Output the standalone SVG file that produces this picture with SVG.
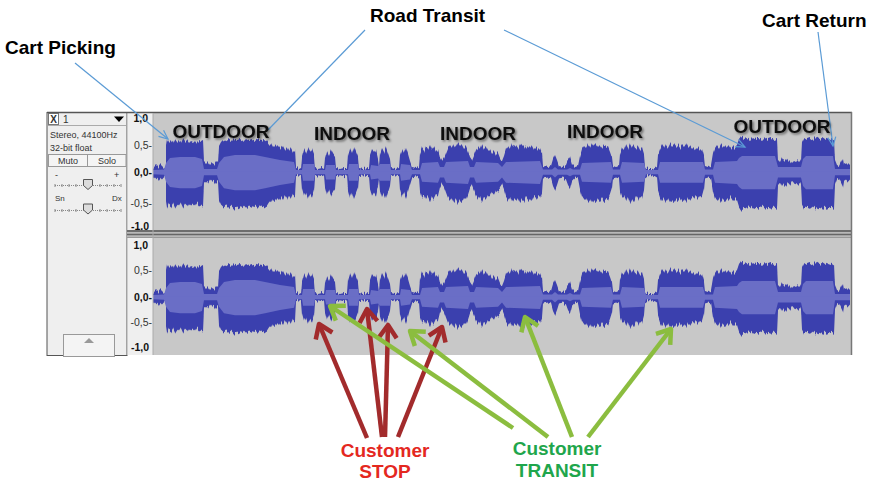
<svg xmlns="http://www.w3.org/2000/svg" width="873" height="484" viewBox="0 0 873 484">
<style>
.lbl{font-family:"Liberation Sans",Arial,sans-serif;font-weight:bold;font-size:19px;fill:#000}
.zone{font-family:"Liberation Sans",Arial,sans-serif;font-weight:bold;font-size:19px;fill:#111;text-anchor:middle}
.rul{font-family:"Liberation Sans",Arial,sans-serif;font-size:10.5px;fill:#333;text-anchor:end}
.rb{font-weight:bold;fill:#111}
.sm{font-family:"Liberation Sans",Arial,sans-serif;font-size:9px;fill:#333}
.ann{stroke:#5b9bd5;stroke-width:1.2;fill:none}
.red{stroke:#a22b2c;stroke-width:4.5;fill:none}
.grn{stroke:#8bbd3f;stroke-width:4.5;fill:none}
.wo{fill:#3b3fae}
.wi{fill:#6a6ec6}
.btn{fill:#f4f4f4;stroke:#999;stroke-width:1}
.thumb{fill:#dcdcdc;stroke:#555;stroke-width:1}
</style>
<defs>
<filter id="sh" x="-10%" y="-40%" width="130%" height="190%">
<feDropShadow dx="1.5" dy="1.5" stdDeviation="1.2" flood-color="#000" flood-opacity="0.5"/>
</filter>
<filter id="jag" x="-2%" y="-30%" width="104%" height="160%">
<feTurbulence type="fractalNoise" baseFrequency="0.7 0.008" numOctaves="1" seed="3" result="n"/>
<feColorMatrix in="n" type="matrix" values="0 0 0 0 0.5  0 1 0 0 0  0 0 0 0 0  0 0 0 0 1" result="m"/>
<feDisplacementMap in="SourceGraphic" in2="m" scale="9" xChannelSelector="R" yChannelSelector="G"/>
</filter>
<marker id="ab" markerUnits="userSpaceOnUse" markerWidth="12" markerHeight="12" refX="9" refY="4" orient="auto" overflow="visible">
<path d="M0,0 L9,4 L0,8" fill="none" stroke="#5b9bd5" stroke-width="1.2"/>
</marker>
<marker id="ar" markerUnits="userSpaceOnUse" markerWidth="1" markerHeight="1" orient="auto" overflow="visible">
<path d="M-13,-9 L0,0 L-13,9" fill="none" stroke="#a22b2c" stroke-width="4.5" stroke-linejoin="round"/>
</marker>
<marker id="ag" markerUnits="userSpaceOnUse" markerWidth="1" markerHeight="1" orient="auto" overflow="visible">
<path d="M-13,-9 L0,0 L-13,9" fill="none" stroke="#8bbd3f" stroke-width="4.5" stroke-linejoin="round"/>
</marker>
<path id="wot" class="wo" d="M153,0.6 L153,-4 156,-7 158,-5 160,-8 162,-6 164,-4 166,-3 166,-28 167,-34 169,-30 171,-32 173,-29 175,-33 177,-30 179,-32 181,-29 183,-33 185,-30 187,-32 189,-29 191,-31 193,-30 195,-32 197,-29 199,-31 201,-30 203,-31 204,-10 206,-8 208,-10 210,-7 212,-9 214,-8 216,-11 218,-9 219,-26 221,-30 223,-32 225,-31 228,-33 231,-31 234,-34 237,-32 240,-33 243,-31 246,-34 249,-32 252,-33 255,-31 258,-33 261,-31 264,-32 267,-30 269,-27 271,-29 273,-25 275,-27 277,-24 279,-26 281,-23 283,-26 285,-22 287,-25 289,-21 291,-24 293,-20 295,-22 296,-4 299,-3 301,-4 302,-16 304,-23 306,-19 308,-24 310,-20 312,-23 314,-17 315,-4 318,-3 322,-4 324,-3 325,-14 327,-21 329,-17 331,-22 333,-18 335,-15 336,-4 340,-3 344,-4 347,-3 348,-17 350,-24 352,-19 354,-25 356,-20 358,-15 359,-4 363,-3 369,-4 370,-16 372,-22 374,-19 376,-22 378,-13 379,-6 380,-18 382,-24 384,-20 386,-25 388,-19 390,-13 391,-4 395,-3 399,-4 400,-17 402,-23 404,-19 406,-24 408,-18 410,-11 412,-5 416,-4 419,-5 420,-18 422,-24 424,-21 426,-26 428,-23 430,-27 432,-22 434,-25 436,-21 438,-23 440,-15 442,-11 444,-14 446,-19 448,-24 450,-27 452,-24 454,-28 456,-25 458,-29 460,-26 462,-28 464,-24 466,-26 468,-21 470,-15 472,-12 474,-17 476,-22 478,-25 480,-22 482,-27 484,-23 486,-25 488,-21 490,-23 492,-19 494,-21 496,-17 498,-19 500,-14 502,-11 504,-16 506,-23 508,-26 510,-23 512,-28 514,-25 516,-27 518,-24 520,-28 522,-25 524,-27 526,-23 528,-26 530,-24 532,-27 534,-23 536,-25 538,-22 540,-24 542,-19 543,-6 548,-5 551,-6 553,-13 555,-17 557,-12 559,-6 563,-5 566,-7 568,-12 570,-15 572,-8 575,-5 578,-6 580,-16 582,-23 584,-26 586,-24 588,-28 590,-25 592,-29 594,-26 596,-28 598,-25 600,-27 602,-24 604,-27 606,-25 608,-26 610,-21 612,-15 613,-6 616,-5 619,-6 620,-18 622,-24 624,-22 626,-27 628,-23 630,-28 632,-24 634,-27 636,-23 638,-26 640,-22 642,-24 644,-17 645,-5 648,-3 652,-3 655,-4 657,-5 658,-17 660,-23 662,-27 664,-24 666,-28 668,-25 670,-29 672,-26 674,-28 676,-25 678,-27 680,-24 682,-27 684,-25 686,-28 688,-24 690,-26 692,-23 694,-25 696,-22 698,-24 700,-21 702,-23 704,-16 705,-6 708,-5 711,-6 713,-18 715,-24 717,-27 719,-24 721,-28 723,-25 725,-27 727,-24 729,-26 731,-23 733,-26 735,-24 737,-26 739,-32 741,-35 744,-33 747,-34 750,-32 753,-35 756,-33 759,-34 762,-32 765,-35 768,-33 771,-34 774,-32 777,-33 778,-12 780,-10 782,-14 784,-11 786,-13 788,-10 790,-12 792,-9 794,-11 796,-10 798,-12 800,-10 801,-12 802,-31 804,-35 807,-33 810,-34 813,-32 816,-35 819,-33 822,-34 825,-32 828,-34 831,-33 834,-34 835,-12 837,-7 839,-6 841,-10 843,-14 844,-8 846,-7 848,-9 850,-7 L850,0.6 Z"/>
<path id="wit" class="wi" d="M153,0.6 L153,-2 164,-2.5 166,-9 170,-14 180,-15 195,-15 202,-13 204,-3 217,-3 219,-9 224,-15 235,-17 255,-17 265,-15 280,-12 294,-10 296,-2 302,-2 303,-8 314,-8 315,-2 325,-2 326,-7 335,-7 336,-2 348,-2 349,-8 358,-8 359,-2 370,-2 371,-7 378,-6 380,-8 390,-8 391,-2 400,-2 401,-8 410,-7 412,-2 420,-2 422,-9 438,-10 440,-5 444,-5 446,-10 468,-11 470,-5 474,-5 476,-10 498,-9 502,-5 506,-10 540,-11 543,-2.5 552,-2.5 555,-5 558,-2.5 567,-2.5 570,-4 573,-2.5 580,-2.5 582,-9 611,-10 613,-2.5 620,-2.5 622,-10 644,-9 646,-2 658,-2 660,-10 703,-10 705,-2.5 713,-2.5 715,-10 737,-11 739,-14 742,-16 775,-16 778,-5 801,-5 803,-13 806,-16 833,-16 835,-3 850,-3 L850,0.6 Z"/>
<g id="wave">
<g filter="url(#jag)">
<use href="#wot"/>
<use href="#wot" transform="scale(1,-1.08)"/>
</g>
<use href="#wit"/>
<use href="#wit" transform="scale(1,-1.08)"/>
</g>
</defs>

<rect width="873" height="484" fill="#fff"/>

<g id="track-panel">
<rect x="47" y="112.5" width="80" height="243" fill="#efefef" stroke="#555" stroke-width="1"/>
<rect x="48.5" y="113.5" width="10" height="11" fill="#fff" stroke="#777"/>
<text x="53.5" y="122.5" class="sm" style="font-weight:bold;font-size:10px" text-anchor="middle">X</text>
<text x="63" y="122.5" class="sm" style="font-size:10px">1</text>
<path d="M114,116.5 L124,116.5 L119,122 Z" fill="#000"/>
<line x1="48" y1="125.5" x2="126" y2="125.5" stroke="#aaa"/>
<text x="50" y="138" class="sm">Stereo, 44100Hz</text>
<text x="50" y="151" class="sm">32-bit float</text>
<rect x="48.5" y="154.5" width="39" height="12" class="btn"/>
<rect x="87.5" y="154.5" width="38.5" height="12" class="btn"/>
<text x="68" y="164" class="sm" text-anchor="middle">Muto</text>
<text x="107" y="164" class="sm" text-anchor="middle">Solo</text>
<text x="55" y="178" class="sm">-</text>
<text x="114" y="178" class="sm">+</text>
<line x1="55" y1="185.5" x2="121" y2="185.5" stroke="#888" stroke-dasharray="1,1"/>
<path d="M55,184 v3 M62,184 v3 M69,184 v3 M76,184 v3 M100,184 v3 M107,184 v3 M114,184 v3 M121,184 v3" stroke="#888"/>
<path d="M83.5,179.5 h9 v6 l-4.5,4 l-4.5,-4 Z" class="thumb"/>
<text x="55" y="201" class="sm" style="font-size:8px">Sn</text>
<text x="112" y="201" class="sm" style="font-size:8px">Dx</text>
<line x1="55" y1="210.5" x2="121" y2="210.5" stroke="#888" stroke-dasharray="1,1"/>
<path d="M55,209 v3 M62,209 v3 M69,209 v3 M76,209 v3 M100,209 v3 M107,209 v3 M114,209 v3 M121,209 v3" stroke="#888"/>
<path d="M83.5,204 h9 v6 l-4.5,4 l-4.5,-4 Z" class="thumb"/>
<rect x="63.5" y="334.5" width="51" height="22" class="btn"/>
<path d="M84,343 L89,338 L94,343 Z" fill="#999"/>
</g>

<g id="ruler">
<rect x="127.5" y="113" width="25.5" height="242" fill="#efefef"/>
<text x="148" y="122" class="rul rb">1,0</text>
<text x="152" y="149" class="rul">0,5-</text>
<text x="152" y="176" class="rul rb">0,0-</text>
<text x="152" y="207" class="rul">-0,5-</text>
<text x="149" y="230" class="rul rb">-1,0</text>
<text x="148" y="249" class="rul rb">1,0</text>
<text x="152" y="274" class="rul">0,5-</text>
<text x="152" y="301" class="rul rb">0,0-</text>
<text x="152" y="326" class="rul">-0,5-</text>
<text x="149" y="351" class="rul rb">-1,0</text>
</g>

<g id="waveform-left">
<rect x="153" y="113" width="698" height="117" fill="#c8c8c8"/>
<use href="#wave" transform="translate(0,172)"/>
</g>
<g id="waveform-right">
<rect x="153" y="238" width="698" height="117" fill="#c8c8c8"/>
<use href="#wave" transform="translate(0,297)"/>
</g>
<g id="frame">
<rect x="127" y="230" width="724.5" height="8" fill="#b8b8b8"/>
<line x1="127" y1="231" x2="851.5" y2="231" stroke="#555" stroke-width="1.5"/>
<line x1="127" y1="234.5" x2="851.5" y2="234.5" stroke="#666" stroke-width="1.5"/>
<line x1="127" y1="237.5" x2="851.5" y2="237.5" stroke="#999" stroke-width="1"/>
<line x1="47" y1="112.5" x2="852" y2="112.5" stroke="#555" stroke-width="1.5"/>
<line x1="851.5" y1="112" x2="851.5" y2="355" stroke="#777" stroke-width="1.5"/>
<line x1="153" y1="113" x2="153" y2="355" stroke="#aaa" stroke-width="1"/>
</g>

<g id="connectors">
<path class="ann" d="M75,63 L168,139" marker-end="url(#ab)"/>
<path class="ann" d="M365,30 L268,130"/>
<path class="ann" d="M504,30 L745,147" marker-end="url(#ab)"/>
<path class="ann" d="M818,32 L833,146" marker-end="url(#ab)"/>
<path class="red" d="M367,438 L319,324" marker-end="url(#ar)"/>
<path class="red" d="M382,437 L367,309" marker-end="url(#ar)"/>
<path class="red" d="M385,437 L388,325" marker-end="url(#ar)"/>
<path class="red" d="M398,437 L442,327" marker-end="url(#ar)"/>
<path class="grn" d="M513,428 L330,306" marker-end="url(#ag)"/>
<path class="grn" d="M548,437 L410,331" marker-end="url(#ag)"/>
<path class="grn" d="M572,437 L525,317" marker-end="url(#ag)"/>
<path class="grn" d="M588,437 L671,329" marker-end="url(#ag)"/>
</g>

<g id="zone-labels" filter="url(#sh)">
<text x="221" y="138" class="zone">OUTDOOR</text>
<text x="352" y="140" class="zone">INDOOR</text>
<text x="478" y="140" class="zone">INDOOR</text>
<text x="605" y="138" class="zone">INDOOR</text>
<text x="782" y="133" class="zone">OUTDOOR</text>
</g>

<g id="cart-picking"><text x="5" y="54" class="lbl">Cart Picking</text></g>
<g id="road-transit"><text x="370" y="22" class="lbl">Road Transit</text></g>
<g id="cart-return"><text x="762" y="27" class="lbl">Cart Return</text></g>
<g id="customer-stop">
<text x="385" y="457" class="lbl" style="fill:#e4281f" text-anchor="middle">Customer</text>
<text x="385" y="478" class="lbl" style="fill:#e4281f" text-anchor="middle">STOP</text>
</g>
<g id="customer-transit">
<text x="557" y="455" class="lbl" style="fill:#1fa64c" text-anchor="middle">Customer</text>
<text x="557" y="477" class="lbl" style="fill:#1fa64c" text-anchor="middle">TRANSIT</text>
</g>
</svg>
